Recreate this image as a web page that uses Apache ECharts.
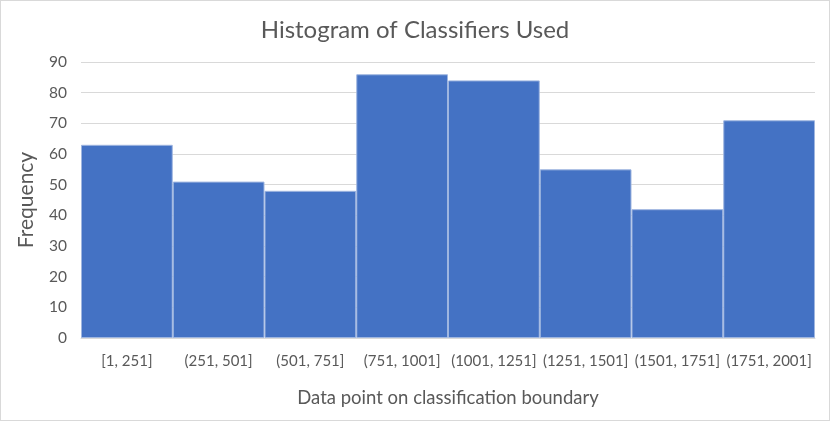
<!DOCTYPE html>
<html><head><meta charset="utf-8">
<script src="https://cdn.jsdelivr.net/npm/echarts@6/dist/echarts.min.js"></script>
<style>
html,body{margin:0;padding:0;background:#fff;}
#c{width:830px;height:421px;}
#frame{position:absolute;left:0;top:0;width:828px;height:419px;border:1px solid #d9d9d9;pointer-events:none;}
</style></head>
<body>
<div id="c"></div><div id="frame"></div>
<script>
const categories = ['[1, 251]', '(251, 501]', '(501, 751]', '(751, 1001]', '(1001, 1251]', '(1251, 1501]', '(1501, 1751]', '(1751, 2001]'];
const frequency = [63, 51, 48, 86, 84, 55, 42, 71];
const chartTitle = 'Histogram of Classifiers Used';
const xName = 'Data point on classification boundary';
const yName = 'Frequency';

const FONT = 'Lato';
const chart = echarts.init(document.getElementById('c'));
chart.setOption({
  animation: false,
  backgroundColor: '#fff',
  title: {
    text: chartTitle, left: 'center', top: 13,
    textStyle: {fontFamily: FONT, fontSize: 24, fontWeight: 'normal', color: '#595959'}
  },
  grid: {left: 81, right: 15, top: 62, bottom: 83, outerBoundsMode: 'none', containLabel: false},
  xAxis: {
    type: 'category', data: categories,
    name: xName, nameLocation: 'middle', nameGap: 51,
    nameTextStyle: {fontFamily: FONT, fontSize: 18.5, color: '#595959'},
    axisLine: {lineStyle: {color: '#d9d9d9'}},
    axisTick: {show: false},
    axisLabel: {interval: 0, margin: 16, fontFamily: FONT, fontSize: 15, color: '#595959'}
  },
  yAxis: {
    type: 'value', min: 0, max: 90, interval: 10,
    name: yName, nameLocation: 'middle', nameGap: 44, nameRotate: 90,
    nameTextStyle: {fontFamily: FONT, fontSize: 21, color: '#595959'},
    axisLine: {show: false}, axisTick: {show: false},
    axisLabel: {margin: 14, fontFamily: FONT, fontSize: 15.5, color: '#595959'},
    splitLine: {lineStyle: {color: '#d9d9d9'}}
  },
  series: [{
    type: 'bar', data: frequency, barCategoryGap: '0%',
    itemStyle: {color: '#4472C4', borderColor: '#9fb6e0', borderWidth: 1}
  }]
});
</script>
</body></html>
